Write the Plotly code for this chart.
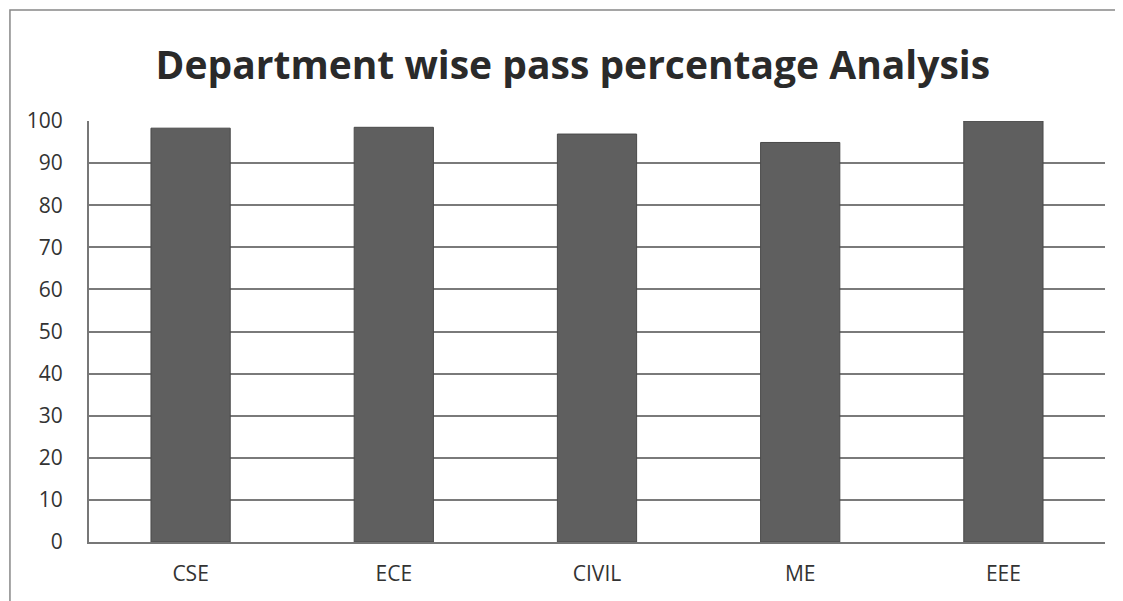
import plotly.graph_objs as go

departments = ["CSE", "ECE", "CIVIL", "ME", "EEE"]
pass_percent = [98.3, 98.5, 96.9, 94.9, 100]
y_ticks = list(range(0, 101, 10))

fig = go.Figure()
fig.add_trace(go.Bar(
    x=departments,
    y=pass_percent,
    marker=dict(color="#5f5f5f", line=dict(color="#4a4a4a", width=1)),
    width=0.39,
))

# page body has an 8px margin, so margins are shifted to compensate
fig.update_layout(
    width=1123,
    height=601,
    margin=dict(l=81, r=26, t=113, b=67),
    paper_bgcolor="white",
    plot_bgcolor="white",
    showlegend=False,
    title=dict(
        text="<b>Department wise pass percentage Analysis</b>",
        x=0.503, xanchor="center",
        y=0.905, yanchor="middle",
        font=dict(family="Open Sans", size=39, color="#2a2a2a"),
    ),
    font=dict(family="Open Sans", color="#333333"),
    xaxis=dict(
        showgrid=False,
        showline=True, linecolor="#777777", linewidth=2,
        tickfont=dict(size=21, color="#333333"),
        ticks="", ticklabelstandoff=12,
    ),
    yaxis=dict(
        range=[0, 100],
        tickvals=y_ticks,
        showgrid=True, gridcolor="#7a7a7a", gridwidth=1.5,
        showline=True, linecolor="#777777", linewidth=2,
        zeroline=False,
        tickfont=dict(size=21, color="#333333"),
        ticks="", ticklabelstandoff=20,
    ),
    shapes=[dict(
        type="rect", xref="paper", yref="paper",
        x0=-0.0778, x1=1.05, y0=-0.3, y1=1.2637,
        line=dict(color="#888888", width=1.5),
        fillcolor="rgba(0,0,0,0)", layer="below",
    )],
)

fig.write_html("out.html")
